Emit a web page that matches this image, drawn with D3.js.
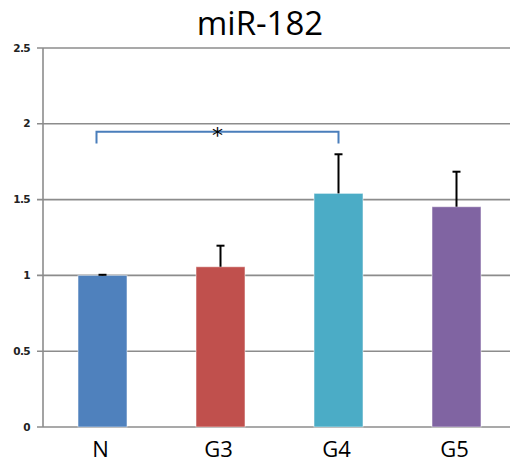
<!DOCTYPE html>
<html>
<head>
<meta charset="utf-8">
<script src="https://cdn.jsdelivr.net/npm/d3@7"></script>
<style>
  body { margin: 0; background: #fff; }
  svg { display: block; }
</style>
</head>
<body>
<div id="chart"></div>
<script>
// values
var categories = ["N", "G3", "G4", "G5"];
var means = [1.0, 1.057, 1.541, 1.453];
var errors = [0.004, 0.139, 0.258, 0.231];
var barColors = ["#4f81bd", "#c0504d", "#4bacc6", "#8064a2"];
var yTicks = [0, 0.5, 1, 1.5, 2, 2.5];
var sigPair = ["N", "G4"];
var sigLevel = 1.948;
var sigDrop = 0.078;

var width = 510, height = 463;
var svg = d3.select("#chart").append("svg")
    .attr("width", width)
    .attr("height", height);

var x = d3.scaleBand()
    .domain(categories)
    .range([43.5, 515.5])
    .paddingInner(0.585)
    .paddingOuter(0.2925);

var y = d3.scaleLinear()
    .domain([0, 2.5])
    .range([427, 48]);

// gridlines
svg.append("g")
    .selectAll("line")
    .data(yTicks)
    .enter().append("line")
    .attr("x1", 37)
    .attr("x2", width)
    .attr("y1", function (d) { return y(d); })
    .attr("y2", function (d) { return y(d); })
    .attr("stroke", "#8c8c8c")
    .attr("stroke-width", 1.6);

// y axis line
svg.append("line")
    .attr("x1", 43).attr("x2", 43)
    .attr("y1", y(2.5)).attr("y2", y(0))
    .attr("stroke", "#8c8c8c")
    .attr("stroke-width", 1.6);

svg.append("g")
    .selectAll("text")
    .data(yTicks)
    .enter().append("text")
    .attr("x", 30)
    .attr("y", function (d) { return y(d); })
    .attr("dy", "0.35em")
    .attr("text-anchor", "end")
    .attr("font-family", "DejaVu Sans")
    .attr("font-weight", "bold")
    .attr("font-size", 10.5)
    .attr("letter-spacing", -0.6)
    .attr("fill", "#222")
    .text(function (d) { return d; });

// bars
svg.append("g")
    .selectAll("rect")
    .data(categories)
    .enter().append("rect")
    .attr("x", function (d) { return x(d); })
    .attr("width", x.bandwidth())
    .attr("y", function (d, i) { return y(means[i]); })
    .attr("height", function (d, i) { return y(0) - y(means[i]); })
    .attr("fill", function (d, i) { return barColors[i]; })
    .attr("stroke", "rgba(255,255,255,0.5)")
    .attr("stroke-width", 1);

// error bars (upper only)
var err = svg.append("g")
    .selectAll("g")
    .data(categories)
    .enter().append("g");

err.append("line")
    .attr("x1", function (d) { return x(d) + x.bandwidth() / 2; })
    .attr("x2", function (d) { return x(d) + x.bandwidth() / 2; })
    .attr("y1", function (d, i) { return y(means[i]); })
    .attr("y2", function (d, i) { return y(means[i] + errors[i]); })
    .attr("stroke", "#000")
    .attr("stroke-width", 2);

err.append("line")
    .attr("x1", function (d) { return x(d) + x.bandwidth() / 2 - 4; })
    .attr("x2", function (d) { return x(d) + x.bandwidth() / 2 + 4; })
    .attr("y1", function (d, i) { return y(means[i] + errors[i]); })
    .attr("y2", function (d, i) { return y(means[i] + errors[i]); })
    .attr("stroke", "#000")
    .attr("stroke-width", 2);

// significance bracket
var bx1 = x(sigPair[0]) + x.bandwidth() / 2 - 6;
var bx2 = x(sigPair[1]) + x.bandwidth() / 2;
svg.append("path")
    .attr("d", "M" + bx1 + "," + y(sigLevel - sigDrop) +
        "V" + y(sigLevel) + "H" + bx2 + "V" + y(sigLevel - sigDrop))
    .attr("fill", "none")
    .attr("stroke", "#4a7ebb")
    .attr("stroke-width", 2);

svg.append("text")
    .attr("x", (bx1 + bx2) / 2)
    .attr("y", y(sigLevel) + 11)
    .attr("text-anchor", "middle")
    .attr("font-family", "DejaVu Sans")
    .attr("font-size", 22)
    .attr("fill", "#000")
    .text("*");

// x labels
svg.append("g")
    .selectAll("text")
    .data(categories)
    .enter().append("text")
    .attr("x", function (d) { return x(d) + x.bandwidth() / 2 - 2; })
    .attr("y", 457)
    .attr("text-anchor", "middle")
    .attr("font-family", "Open Sans")
    .attr("font-size", 22)
    .attr("fill", "#000")
    .text(function (d) { return d; });

// title
svg.append("text")
    .attr("x", 260)
    .attr("y", 35)
    .attr("text-anchor", "middle")
    .attr("font-family", "Open Sans")
    .attr("font-size", 33)
    .attr("fill", "#000")
    .text("miR-182");
</script>
</body>
</html>
